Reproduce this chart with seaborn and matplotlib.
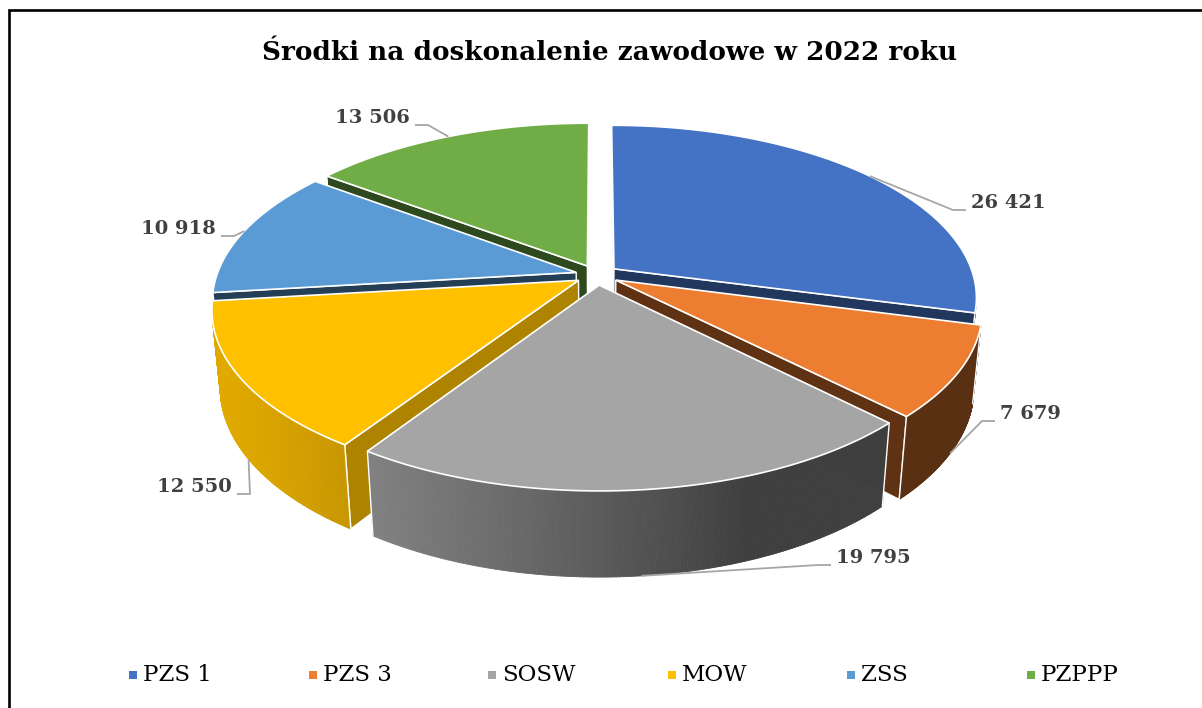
import numpy as np
import matplotlib
matplotlib.use("Agg")
import matplotlib.pyplot as plt
import seaborn as sns
from matplotlib.patches import Polygon, Rectangle
from matplotlib.collections import PolyCollection

# data
categories = ["PZS 1", "PZS 3", "SOSW", "MOW", "ZSS", "PZPPP"]
values = [26421, 7679, 19795, 12550, 10918, 13506]
value_labels = ["26 421", "7 679", "19 795", "12 550", "10 918", "13 506"]
title = "Środki na doskonalenie zawodowe w 2022 roku"

sns.set_theme(style="white")
plt.rcParams["font.family"] = ["DejaVu Serif"]
palette = sns.color_palette(["#4472C4", "#ED7D31", "#A5A5A5", "#FFC000", "#5B9BD5", "#70AD47"])
# darkening of the radial cut faces, per slice
cut_shade = [0.48, 0.40, 0.45, 0.68, 0.40, 0.42]

# label placement (pixels): side, text edge x, text centre y
label_pos = [("left", 971, 203), ("left", 1000, 414), ("left", 836, 558),
             ("right", 232, 487), ("right", 216, 229), ("right", 410, 118)]

# 3d pie geometry (pixels / unit radius)
W, H = 1202, 708
CX, CY = 597, 275
F = 1955
ELEV = np.deg2rad(28)
DIST = 5.44
THICK = 0.245
EXPLODE = 0.06

cam = np.array([0, -DIST * np.cos(ELEV), DIST * np.sin(ELEV)])
fwd = np.array([0, np.cos(ELEV), -np.sin(ELEV)])
upv = np.array([0, np.sin(ELEV), np.cos(ELEV)])


def project(p):
    p = np.atleast_2d(p)
    rel = p - cam
    depth = rel @ fwd
    return np.column_stack([CX + F * rel[:, 0] / depth, CY - F * (rel @ upv) / depth]), depth


def ring(t, z, off):
    return np.column_stack([np.cos(t), np.sin(t), np.full_like(t, z)]) + off


def visible(normal, point):
    return np.dot(normal, cam - point) > 0


def shade(color, k):
    return tuple(np.clip(np.array(color) * k, 0, 1))


fig = plt.figure(figsize=(W / 100, H / 100), dpi=100)
ax = fig.add_axes([0, 0, 1, 1])
ax.set_xlim(0, W)
ax.set_ylim(H, 0)
ax.axis("off")

frac = np.array(values) / np.sum(values)
bounds = np.deg2rad(90 - 360 * np.concatenate([[0], np.cumsum(frac)]))

walls = []
tops = []
anchors = []
for i, col in enumerate(palette):
    t0, t1 = bounds[i], bounds[i + 1]
    mid = (t0 + t1) / 2
    off = EXPLODE * np.array([np.cos(mid), np.sin(mid), 0])
    centre = off.copy()

    # top face
    ts = np.linspace(t0, t1, 120)
    top3 = np.vstack([centre, ring(ts, 0, off)])
    tops.append((project(top3)[0], col))

    # cut faces
    for t, nang in ((t0, t0 + np.pi / 2), (t1, t1 - np.pi / 2)):
        n = np.array([np.cos(nang), np.sin(nang), 0])
        edge = np.array([np.cos(t), np.sin(t), 0]) + off
        quad = np.array([centre, edge, edge - [0, 0, THICK], centre - [0, 0, THICK]])
        c3 = quad.mean(axis=0)
        if visible(n, c3):
            pts, _ = project(quad)
            walls.append((project(c3)[1][0], "cut", pts, shade(col, cut_shade[i])))

    # outer wall, visible part only
    n_seg = 160
    ts = np.linspace(t0, t1, n_seg + 1)
    tm = (ts[:-1] + ts[1:]) / 2
    vis = np.array([visible(np.array([np.cos(a), np.sin(a), 0]),
                            np.array([np.cos(a), np.sin(a), -THICK / 2]) + off) for a in tm])
    if vis.any():
        idx = np.where(vis)[0]
        a, b = idx[0], idx[-1] + 1
        tv = ts[a:b + 1]
        topr = project(ring(tv, 0, off))[0]
        botr = project(ring(tv, -THICK, off))[0]
        strips = [np.array([topr[k], topr[k + 1], botr[k + 1], botr[k]]) for k in range(len(tv) - 1)]
        light = 0.38 + 0.5 * np.clip(np.cos((tv[:-1] + tv[1:]) / 2 - np.deg2rad(200)), 0, None)
        cols = [shade(col, k) for k in light]
        corners = []
        if a == 0:
            corners.append(np.array([topr[0], botr[0]]))
        if b == n_seg:
            corners.append(np.array([topr[-1], botr[-1]]))
        tmid = tv[len(tv) // 2]
        d = project(np.array([np.cos(tmid), np.sin(tmid), -THICK / 2]) + off)[1][0]
        walls.append((d, "outer", (strips, cols, corners), None))

    # label anchor
    if np.sin(mid) < 0:
        anc = np.array([np.cos(mid), np.sin(mid), -THICK]) + off
    else:
        anc = np.array([np.cos(mid), np.sin(mid), 0]) + off
    anchors.append(project(anc)[0][0])

# walls back to front, then the top faces
for d, kind, pts, col in sorted(walls, key=lambda w: -w[0]):
    if kind == "cut":
        ax.add_patch(Polygon(pts, closed=True, facecolor=col, edgecolor="white", lw=1.0, zorder=2))
    else:
        strips, cols, corners = pts
        ax.add_collection(PolyCollection(strips, facecolors=cols, edgecolors=cols, linewidths=0.6, zorder=2))
        for seg in corners:
            ax.plot(seg[:, 0], seg[:, 1], color="white", lw=1.0, zorder=2)

for pts, col in tops:
    ax.add_patch(Polygon(pts, closed=True, facecolor=col, edgecolor="white", lw=1.2, zorder=3))

# data labels with leader lines
for (side, tx, ty), lab, anc in zip(label_pos, value_labels, anchors):
    sgn = -1 if side == "left" else 1
    ly = ty + 7
    end = tx + sgn * 5
    elbow = end + sgn * 13
    ax.plot([anc[0], elbow, end], [anc[1], ly, ly], color="#A6A6A6", lw=1.3, zorder=4,
            solid_capstyle="butt")
    ax.text(tx, ty, lab, ha=side, va="center", fontsize=14, fontweight="bold",
            color="#404040", zorder=5)

# title
ax.text(610, 52, title, ha="center", va="center", fontsize=18.9, fontweight="bold", color="black")

# legend, equal-width cells like the original
for i, (name, col) in enumerate(zip(categories, palette)):
    x = 129 + i * 179.6
    ax.add_patch(Rectangle((x, 671), 8, 8, facecolor=col, edgecolor="none"))
    ax.text(x + 14, 675, name, ha="left", va="center", fontsize=16.5, color="black")

# chart border (top and left edges visible)
ax.plot([9, 9, W], [H, 10, 10], color="black", lw=1.9, solid_joinstyle="miter")

fig.savefig("out.png", dpi=100, facecolor="white")
